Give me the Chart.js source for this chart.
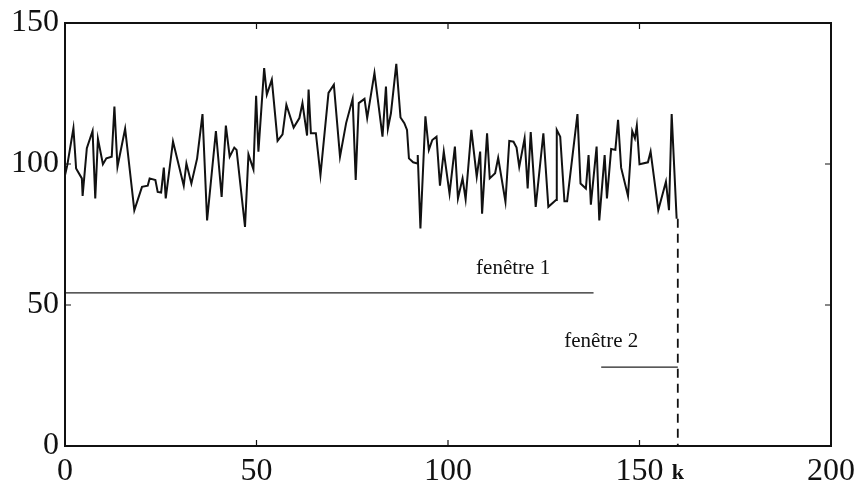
<!DOCTYPE html>
<html>
<head>
<meta charset="utf-8">
<script src="https://cdn.jsdelivr.net/npm/chart.js@4/dist/chart.umd.min.js"></script>
<style>
html,body{margin:0;padding:0;background:#fff;}
#wrap{width:856px;height:486px;}
</style>
</head>
<body>
<div id="wrap"><canvas id="c" width="856" height="486"></canvas></div>
<script>
// series: sample index k and value
const xs = [0,0.6,2.2,2.9,4.4,4.6,5.7,7.2,7.9,8.6,9.9,10.8,12.2,12.9,13.7,15.7,18.1,20.1,21.6,22.1,23.6,24.2,25.1,25.8,26.3,28.2,31,31.7,33,34.5,35.9,37.1,39.4,40.9,42,43,44.2,44.8,47,47.9,49.2,49.9,50.5,52,52.7,54,55.5,56.8,57.8,59.7,61.2,62,63.2,63.6,64.2,65.5,66.7,68.8,70.2,71.8,73.4,75.1,75.9,76.7,78.2,78.9,80.8,82.9,83.8,84.3,85.1,86.5,87.6,88.6,89.3,89.8,90.9,92,92.1,92.8,94.1,95,95.9,97,97.9,98.9,100.4,101.8,102.6,103.8,104.6,106.1,107.5,108.4,108.9,110.2,110.9,112.3,113.1,115,116,117.1,117.9,118.6,120,120.8,121.6,122.9,124.9,126.2,128.2,128.4,129.3,130.4,131.1,133.8,134.6,136,136.7,137.3,138.8,139.5,140.9,141.5,142.6,143.7,144.4,145.2,147,148.1,148.8,149.3,150,152.2,152.9,154.9,156.9,157.7,158.4,159.7];
const ys = [96,99.6,112.7,98.4,94.9,88.7,105.6,111.7,87.8,108.9,99.9,102,102.6,120.4,99,112.5,83.6,91.9,92.3,94.9,94.3,90.1,89.9,98.7,87.8,108,92.3,100.2,93.1,102,117.7,80,111.7,88.3,113.6,102.6,105.8,105,77.7,103.4,98.1,124.2,104.4,134,124.6,129.9,108.2,110.5,121,112.9,116.3,121.6,110.1,126.4,110.9,110.9,96.1,125.2,128.1,102.6,114.5,123.1,94.3,121.6,123.1,116.3,132.3,109.7,127.5,112.5,118,135.5,116.5,114.5,112.1,102,100.6,100.2,103.2,77.1,116.9,105,108.5,109.7,92.3,104.4,89.5,106.2,87.8,94.9,87.5,112.1,95.5,104.4,82.4,110.9,94.9,96.7,102.2,86.6,108.2,107.9,105.8,99,109.1,91.3,111.3,84.8,110.9,84.8,87.2,112.1,109.7,86.8,86.8,117.7,93.1,91.3,103.2,85.6,106.2,80,103.2,87.8,105.3,105,115.7,98.7,88.7,111.7,109.1,113.6,99.9,100.6,104.4,83.6,93.7,83.6,117.7,80.6];

// windows and marker
const window1X = [0, 138];
const window1Y = 54.3;
const window2X = [140, 160];
const window2Y = 28;
const kValue = 160;
const kLine = [80.6, 0];
const window1Label = "fenêtre 1";
const window2Label = "fenêtre 2";
const kLabel = "k";

const xTicks = [0, 50, 100, 150, 200];
const yTicks = [0, 50, 100, 150];

const serif = "'Liberation Serif', 'DejaVu Serif', serif";

const seriesData = xs.map((x, i) => ({x, y: ys[i]}));

const framePlugin = {
  id: 'frame',
  afterDraw(chart) {
    const {ctx, chartArea: a, scales: {x, y}} = chart;
    ctx.save();
    ctx.strokeStyle = '#111';
    ctx.lineWidth = 2;
    ctx.strokeRect(a.left, a.top, a.right - a.left, a.bottom - a.top);
    ctx.lineWidth = 1.2;
    const L = 6;
    xTicks.forEach(v => {
      const px = x.getPixelForValue(v);
      ctx.beginPath();
      ctx.moveTo(px, a.bottom); ctx.lineTo(px, a.bottom - L);
      ctx.moveTo(px, a.top); ctx.lineTo(px, a.top + L);
      ctx.stroke();
    });
    yTicks.forEach(v => {
      const py = y.getPixelForValue(v);
      ctx.beginPath();
      ctx.moveTo(a.left, py); ctx.lineTo(a.left + L, py);
      ctx.moveTo(a.right, py); ctx.lineTo(a.right - L, py);
      ctx.stroke();
    });
    ctx.fillStyle = '#111';
    ctx.font = "21px " + serif;
    ctx.textAlign = 'center';
    ctx.textBaseline = 'alphabetic';
    ctx.fillText(window1Label, x.getPixelForValue(117), y.getPixelForValue(61));
    ctx.fillText(window2Label, x.getPixelForValue(140), y.getPixelForValue(35));
    ctx.font = "bold 22px " + serif;
    ctx.fillText(kLabel, x.getPixelForValue(kValue), a.bottom + 33);
    ctx.restore();
  }
};

new Chart(document.getElementById('c'), {
  type: 'line',
  data: {
    datasets: [
      {data: seriesData, borderColor: '#111', borderWidth: 2, pointRadius: 0, tension: 0, fill: false},
      {data: window1X.map(v => ({x: v, y: window1Y})), borderColor: '#222', borderWidth: 1.3, pointRadius: 0, fill: false},
      {data: window2X.map(v => ({x: v, y: window2Y})), borderColor: '#222', borderWidth: 1.3, pointRadius: 0, fill: false},
      {data: kLine.map(v => ({x: kValue, y: v})), borderColor: '#111', borderWidth: 1.8, borderDash: [9, 6], pointRadius: 0, fill: false}
    ]
  },
  options: {
    responsive: false,
    animation: false,
    events: [],
    layout: {padding: {top: 23, right: 25, left: 0, bottom: 0}},
    plugins: {legend: {display: false}, tooltip: {enabled: false}},
    scales: {
      x: {
        type: 'linear', min: 0, max: 200,
        afterBuildTicks: axis => { axis.ticks = xTicks.map(v => ({value: v})); },
        afterFit: axis => { axis.height = 40; axis.paddingLeft = 0; axis.paddingRight = 0; },
        grid: {display: false, drawTicks: false},
        border: {display: false},
        ticks: {
          autoSkip: false, maxRotation: 0, padding: 6, color: '#111',
          font: {family: serif, size: 32}
        }
      },
      y: {
        type: 'linear', min: 0, max: 150,
        afterBuildTicks: axis => { axis.ticks = yTicks.map(v => ({value: v})); },
        afterFit: axis => { axis.width = 65; axis.paddingTop = 0; axis.paddingBottom = 0; },
        grid: {display: false, drawTicks: false},
        border: {display: false},
        ticks: {padding: 6, color: '#111', font: {family: serif, size: 32}}
      }
    }
  },
  plugins: [framePlugin]
});
</script>
</body>
</html>
